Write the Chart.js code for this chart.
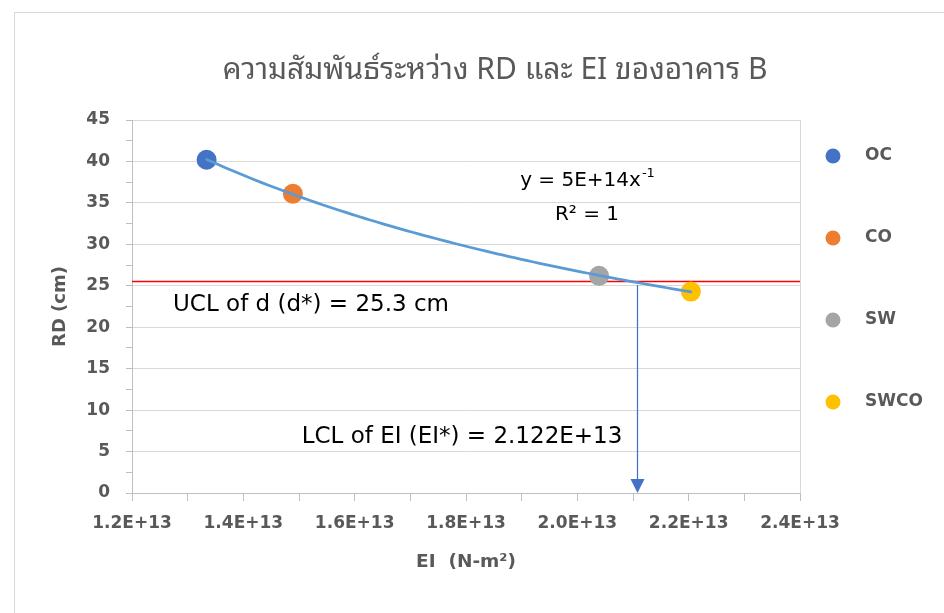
<!DOCTYPE html>
<html>
<head>
<meta charset="utf-8">
<script src="https://cdn.jsdelivr.net/npm/chart.js@4.4.0/dist/chart.umd.min.js"></script>
<style>
  html, body { margin: 0; padding: 0; background: #fff; }
  #wrap { width: 944px; height: 613px; }
</style>
</head>
<body>
<div id="wrap"><canvas id="chart" width="944" height="613"></canvas></div>
<script>
// data
const categories = ['OC', 'CO', 'SW', 'SWCO'];
const eiValues = [1.334e13, 1.489e13, 2.039e13, 2.204e13];
const rdValues = [40.2, 36.1, 26.2, 24.3];
const pointColors = ['#4472C4', '#ED7D31', '#A5A5A5', '#FFC000'];
const uclRD = 25.6;
const lclEI = 2.107e13;
const arrowTopRD = 25.1;

const titleText = 'ความสัมพันธ์ระหว่าง RD และ EI ของอาคาร B';
const uclLabel = 'UCL of d (d*) = 25.3 cm';
const lclLabel = 'LCL of EI (EI*) = 2.122E+13';
const trendLabel = 'y = 5E+14x';
const trendExp = '-1';
const r2Label = 'R² = 1';

const gray = '#595959';
const latin = "'DejaVu Sans', 'Noto Sans', sans-serif";
const thai = "'Noto Sans Thai Looped', 'Garuda', 'Loma', 'Noto Sans Thai', 'Noto Sans', sans-serif";

// power trendline y = a * x^b, least squares on logs
function powerFit(xs, ys) {
    const n = xs.length;
    let sx = 0, sy = 0, sxx = 0, sxy = 0;
    for (let i = 0; i < n; i++) {
        const lx = Math.log(xs[i]), ly = Math.log(ys[i]);
        sx += lx; sy += ly; sxx += lx * lx; sxy += lx * ly;
    }
    const b = (n * sxy - sx * sy) / (n * sxx - sx * sx);
    const a = Math.exp((sy - b * sx) / n);
    return { a, b };
}

const extras = {
    id: 'extras',
    beforeDraw(chart) {
        const ctx = chart.ctx;
        ctx.save();
        ctx.fillStyle = '#fff';
        ctx.fillRect(0, 0, chart.width, chart.height);
        ctx.strokeStyle = '#D9D9D9';
        ctx.lineWidth = 1;
        ctx.strokeRect(14.5, 12.5, 1000, 700);
        ctx.restore();
    },
    beforeDatasetsDraw(chart) {
        const { ctx, chartArea, scales } = chart;
        const yU = Math.round(scales.y.getPixelForValue(uclRD)) + 0.5;
        ctx.save();
        ctx.strokeStyle = '#FF0000';
        ctx.lineWidth = 1.5;
        ctx.beginPath();
        ctx.moveTo(chartArea.left, yU);
        ctx.lineTo(chartArea.right, yU);
        ctx.stroke();
        ctx.restore();
    },
    afterDatasetsDraw(chart) {
        const { ctx, scales } = chart;
        const x = scales.x, y = scales.y;
        // trendline
        const fit = powerFit(eiValues, rdValues);
        const x0 = Math.min(...eiValues), x1 = Math.max(...eiValues);
        ctx.save();
        ctx.strokeStyle = '#5B9BD5';
        ctx.lineWidth = 2.75;
        ctx.lineCap = 'round';
        ctx.beginPath();
        for (let i = 0; i <= 80; i++) {
            const xv = x0 + (x1 - x0) * i / 80;
            const px = x.getPixelForValue(xv), py = y.getPixelForValue(fit.a * Math.pow(xv, fit.b));
            if (i === 0) ctx.moveTo(px, py); else ctx.lineTo(px, py);
        }
        ctx.stroke();

        // arrow down to the EI axis
        const ax = Math.round(x.getPixelForValue(lclEI)) + 0.5;
        const aTop = y.getPixelForValue(arrowTopRD), aBot = y.getPixelForValue(0);
        ctx.strokeStyle = '#4472C4';
        ctx.fillStyle = '#4472C4';
        ctx.lineWidth = 1.25;
        ctx.lineCap = 'butt';
        ctx.beginPath();
        ctx.moveTo(ax, aTop);
        ctx.lineTo(ax, aBot - 12);
        ctx.stroke();
        ctx.beginPath();
        ctx.moveTo(ax - 7, aBot - 14);
        ctx.lineTo(ax + 7, aBot - 14);
        ctx.lineTo(ax, aBot);
        ctx.closePath();
        ctx.fill();

        // text boxes
        ctx.fillStyle = '#000';
        ctx.textBaseline = 'alphabetic';
        ctx.font = '20px ' + latin;
        const w1 = ctx.measureText(trendLabel).width;
        ctx.font = '13px ' + latin;
        const w2 = ctx.measureText(trendExp).width;
        const sx = 587 - (w1 + w2) / 2;
        ctx.textAlign = 'left';
        ctx.font = '20px ' + latin;
        ctx.fillText(trendLabel, sx, 186);
        ctx.font = '13px ' + latin;
        ctx.fillText(trendExp, sx + w1 + 1, 177);
        ctx.textAlign = 'center';
        ctx.font = '20px ' + latin;
        ctx.fillText(r2Label, 587, 220);

        ctx.textBaseline = 'middle';
        ctx.font = '23px ' + latin;
        ctx.fillText(uclLabel, 311, 305);
        ctx.fillText(lclLabel, 462, 437);
        ctx.restore();
    },
    afterDraw(chart) {
        // legend on the right
        const ctx = chart.ctx;
        ctx.save();
        ctx.font = 'bold 17px ' + latin;
        ctx.textBaseline = 'middle';
        ctx.textAlign = 'left';
        chart.data.datasets.forEach((ds, i) => {
            const cy = 156 + i * 82;
            ctx.fillStyle = ds.backgroundColor;
            ctx.beginPath();
            ctx.arc(833, cy, 7.5, 0, Math.PI * 2);
            ctx.fill();
            ctx.fillStyle = gray;
            ctx.fillText(ds.label, 865, cy);
        });
        ctx.restore();
    }
};

const datasets = categories.map((c, i) => ({
    label: c,
    data: [{ x: eiValues[i], y: rdValues[i] }],
    backgroundColor: pointColors[i],
    borderWidth: 0,
    pointRadius: 10,
    pointHoverRadius: 10
}));

new Chart(document.getElementById('chart'), {
    type: 'scatter',
    data: { datasets },
    options: {
        responsive: false,
        animation: false,
        devicePixelRatio: 1,
        layout: { padding: { left: 46, right: 0, top: 0, bottom: 0 } },
        plugins: {
            legend: { display: false },
            tooltip: { enabled: false },
            title: {
                display: true,
                text: titleText,
                color: gray,
                font: { family: thai, size: 30, weight: 'normal' },
                padding: { top: 53, bottom: 31 }
            }
        },
        scales: {
            x: {
                type: 'linear',
                min: 1.2e13,
                max: 2.4e13,
                afterFit: s => { s.height = 120; },
                afterBuildTicks: s => {
                    s.ticks = [];
                    for (let k = 12; k <= 24; k++) s.ticks.push({ value: k * 1e12 });
                },
                ticks: {
                    autoSkip: false,
                    maxRotation: 0,
                    padding: 12,
                    color: gray,
                    font: { family: latin, size: 17, weight: 'bold' },
                    callback: v => {
                        const k = Math.round(v / 1e12);
                        return k % 2 === 0 ? (k / 10).toFixed(1) + 'E+13' : '';
                    }
                },
                grid: {
                    color: c => (c.tick && Math.round(c.tick.value / 1e12) === 24) ? '#D9D9D9' : 'rgba(0,0,0,0)',
                    tickColor: '#BFBFBF',
                    tickLength: 8
                },
                border: { color: '#BFBFBF' },
                title: {
                    display: true,
                    text: 'EI  (N-m²)',
                    color: gray,
                    font: { family: latin, size: 18.5, weight: 'bold' },
                    padding: { top: 0, bottom: 40 }
                }
            },
            y: {
                min: 0,
                max: 45,
                afterFit: s => { s.width = 86; },
                afterBuildTicks: s => {
                    s.ticks = [];
                    for (let k = 0; k <= 18; k++) s.ticks.push({ value: k * 2.5 });
                },
                ticks: {
                    autoSkip: false,
                    padding: 16,
                    color: gray,
                    font: { family: latin, size: 17, weight: 'bold' },
                    callback: v => (Math.round(v * 2) % 10 === 0 ? v : '')
                },
                grid: {
                    color: c => (c.tick && Math.round(c.tick.value * 2) % 10 === 0 && c.tick.value > 0) ? '#D9D9D9' : 'rgba(0,0,0,0)',
                    tickColor: '#BFBFBF',
                    tickLength: 6
                },
                border: { color: '#BFBFBF' },
                title: {
                    display: true,
                    text: 'RD (cm)',
                    color: gray,
                    font: { family: latin, size: 18, weight: 'bold' },
                    padding: { top: 4, bottom: 0 }
                }
            },
            y2: {
                position: 'right',
                min: 0,
                max: 45,
                afterFit: s => { s.width = 144; },
                ticks: { display: false },
                grid: { display: false },
                border: { display: false }
            }
        }
    },
    plugins: [extras]
});
</script>
</body>
</html>
